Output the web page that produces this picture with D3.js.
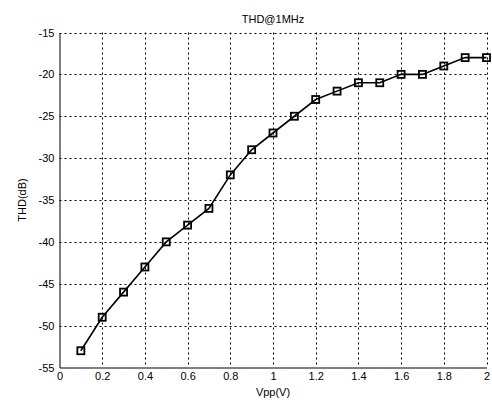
<!DOCTYPE html>
<html><head><meta charset="utf-8">
<script src="https://cdn.jsdelivr.net/npm/d3@7/dist/d3.min.js"></script>
<style>body{margin:0;background:#fff}svg{display:block}text{font-family:"Liberation Sans",Arial,sans-serif;font-size:11px;fill:#000}</style>
</head><body>
<script>
const vpp = [0.1,0.2,0.3,0.4,0.5,0.6,0.7,0.8,0.9,1.0,1.1,1.2,1.3,1.4,1.5,1.6,1.7,1.8,1.9,2.0];
const thd = [-53,-49,-46,-43,-40,-38,-36,-32,-29,-27,-25,-23,-22,-21,-21,-20,-20,-19,-18,-18];
const xTicks = [0,0.2,0.4,0.6,0.8,1,1.2,1.4,1.6,1.8,2];
const yTicks = [-55,-50,-45,-40,-35,-30,-25,-20,-15];
const W=492,H=403, L=59.5,R=486.5,T=32.5,B=367.5;
const svg=d3.select("body").append("svg").attr("width",W).attr("height",H);
const x=d3.scaleLinear().domain([0,2]).range([L,R]);
const y=d3.scaleLinear().domain([-55,-15]).range([B,T]);
// grid
const g=svg.append("g");
g.selectAll(".vg").data(xTicks.slice(1)).enter().append("line")
 .attr("x1",d=>Math.round(x(d))+0.5).attr("x2",d=>Math.round(x(d))+0.5).attr("y1",T).attr("y2",B)
 .attr("stroke","#000").attr("stroke-width",1).attr("stroke-dasharray","2,3");
g.selectAll(".hg").data(yTicks.slice(1)).enter().append("line")
 .attr("y1",d=>Math.round(y(d))+0.5).attr("y2",d=>Math.round(y(d))+0.5).attr("x1",L).attr("x2",R)
 .attr("stroke","#000").attr("stroke-width",1).attr("stroke-dasharray","2,3");
// axes
const xa=svg.append("g").attr("transform",`translate(0,${B})`)
 .call(d3.axisBottom(x).tickValues(xTicks).tickSize(0).tickPadding(5).tickFormat(d=>String(d)));
const ya=svg.append("g").attr("transform",`translate(${L},0)`)
 .call(d3.axisLeft(y).tickValues(yTicks).tickSize(0).tickPadding(5).tickFormat(d=>String(d).replace("\u2212","-")));
[xa,ya].forEach(a=>{a.select(".domain").attr("stroke","#000");a.selectAll("text").style("font-family",'"Liberation Sans",Arial,sans-serif').style("font-size","11px").attr("fill","#000");});
// line
svg.append("path").datum(vpp.map((v,i)=>[v,thd[i]]))
 .attr("d",d3.line().x(d=>x(d[0])).y(d=>y(d[1])))
 .attr("fill","none").attr("stroke","#000").attr("stroke-width",1.6);
svg.selectAll(".m").data(vpp.map((v,i)=>[v,thd[i]])).enter().append("rect")
 .attr("x",d=>x(d[0])-3.5).attr("y",d=>y(d[1])-3.5).attr("width",7).attr("height",7)
 .attr("fill","none").attr("stroke","#000").attr("stroke-width",1.8);
// labels
svg.append("text").attr("x",(L+R)/2).attr("y",23).attr("text-anchor","middle").text("THD@1MHz");
svg.append("text").attr("x",(L+R)/2).attr("y",396).attr("text-anchor","middle").text("Vpp(V)");
svg.append("text").attr("transform",`translate(26,${(T+B)/2}) rotate(-90)`).attr("text-anchor","middle").text("THD(dB)");
</script>
</body></html>
